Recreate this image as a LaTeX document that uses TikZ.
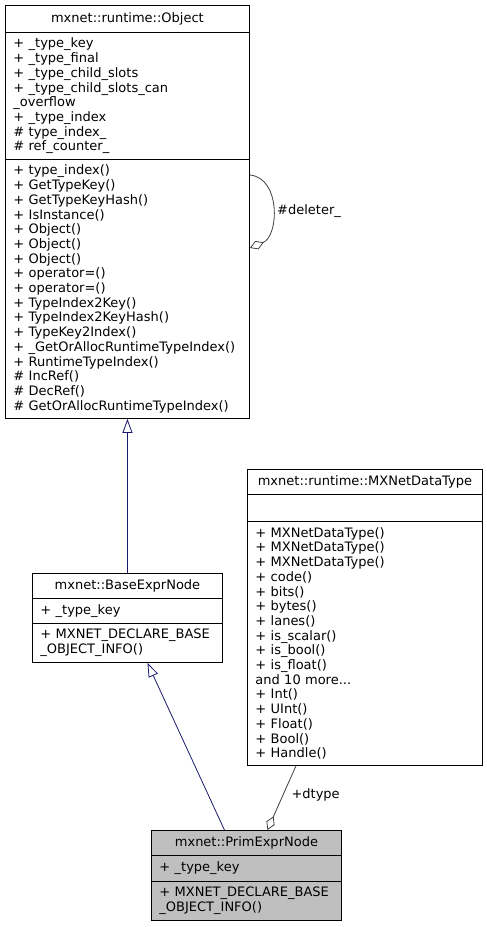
\documentclass[tikz,border=0pt]{standalone}
\usepackage{fontspec}
\setmainfont{DejaVu Sans}
\usetikzlibrary{arrows.meta,calc}
\definecolor{navyline}{HTML}{191970}
\definecolor{aggline}{HTML}{404040}
\definecolor{hilite}{HTML}{BFBFBF}
\begin{document}
\begin{tikzpicture}[x=1pt,y=-1pt,
 every node/.style={font=\fontsize{13}{14.7}\selectfont},
 sec/.style={draw, line width=0.9pt, anchor=north west, inner xsep=8pt, inner ysep=0pt, align=left},
 ttl/.style={sec, align=center},
 inh/.style={draw=navyline, line width=0.8pt, -{Triangle[open,length=14pt,width=10pt]}},
 agg/.style={draw=aggline, line width=0.8pt, -{Diamond[open,length=15pt,width=9pt]}},
 lbl/.style={anchor=west, inner sep=0pt}
]
\useasboundingbox (0,0) rectangle (487,927);
% Object
\node[ttl, text width=228pt, minimum height=27pt] (objT) at (5,5) {mxnet::runtime::Object};
\node[sec, text width=228pt, minimum height=127pt] (objA) at (5,32) {+ \_type\_key\\+ \_type\_final\\+ \_type\_child\_slots\\+ \_type\_child\_slots\_can\\\_overflow\\+ \_type\_index\\\# type\_index\_\\\# ref\_counter\_};
\node[sec, text width=228pt, minimum height=259pt] (objM) at (5,159) {+ type\_index()\\+ GetTypeKey()\\+ GetTypeKeyHash()\\+ IsInstance()\\+ Object()\\+ Object()\\+ Object()\\+ operator=()\\+ operator=()\\+ TypeIndex2Key()\\+ TypeIndex2KeyHash()\\+ TypeKey2Index()\\+ \_GetOrAllocRuntimeTypeIndex()\\+ RuntimeTypeIndex()\\\# IncRef()\\\# DecRef()\\\# GetOrAllocRuntimeTypeIndex()};
% BaseExprNode
\node[ttl, text width=174pt, minimum height=25pt] (baseT) at (32,573) {mxnet::BaseExprNode};
\node[sec, text width=174pt, minimum height=25pt] (baseA) at (32,598) {+ \_type\_key};
\node[sec, text width=174pt, minimum height=39pt] (baseM) at (32,623) {+ MXNET\_DECLARE\_BASE\\\_OBJECT\_INFO()};
% MXNetDataType
\node[ttl, text width=219pt, minimum height=25pt] (mxT) at (247,469) {mxnet::runtime::MXNetDataType};
\node[sec, text width=219pt, minimum height=27pt] (mxA) at (247,494) {};
\node[sec, text width=219pt, minimum height=244pt] (mxM) at (247,521) {+ MXNetDataType()\\+ MXNetDataType()\\+ MXNetDataType()\\+ code()\\+ bits()\\+ bytes()\\+ lanes()\\+ is\_scalar()\\+ is\_bool()\\+ is\_float()\\and 10 more...\\+ Int()\\+ UInt()\\+ Float()\\+ Bool()\\+ Handle()};
% PrimExprNode
\node[ttl, fill=hilite, text width=174pt, minimum height=25pt] (primT) at (151,830) {mxnet::PrimExprNode};
\node[sec, fill=hilite, text width=174pt, minimum height=26pt] (primA) at (151,855) {+ \_type\_key};
\node[sec, fill=hilite, text width=174pt, minimum height=39pt] (primM) at (151,881) {+ MXNET\_DECLARE\_BASE\\\_OBJECT\_INFO()};
% connectors
\draw[inh] (baseT.north) -- (objM.south);
\draw[inh] ([xshift=-22pt]primT.north) -- ([xshift=20pt]baseM.south);
\draw[agg] ([xshift=-69pt]mxM.south) -- ([xshift=21pt]primT.north) node[lbl, pos=0.45, xshift=8pt] (dtl) {+dtype};
\draw[agg] ([yshift=-16pt]objM.north east) .. controls (281,178) and (279,236) .. ([yshift=-89pt]objM.north east);
\node[lbl] (dell) at (277,211) {\#deleter\_};
\end{tikzpicture}
\end{document}
